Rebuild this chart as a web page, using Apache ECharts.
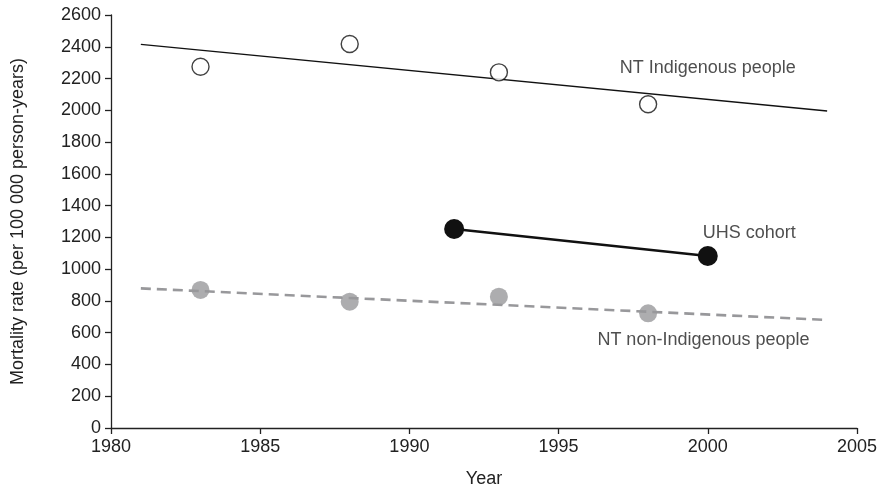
<!DOCTYPE html>
<html><head><meta charset="utf-8">
<script src="https://cdn.jsdelivr.net/npm/echarts@6/dist/echarts.min.js"></script>
<style>html,body{margin:0;padding:0;background:#fff}#c{width:880px;height:494px}</style>
</head><body><div id="c"></div>
<script>
// Data
var indigYears = [1983, 1988, 1993, 1998];
var indigRates = [2274, 2417, 2239, 2038];
var indigTrendYears = [1981, 2004];
var indigTrendRates = [2415, 1996];
var nonIndigYears = [1983, 1988, 1993, 1998];
var nonIndigRates = [869, 795, 827, 722];
var nonIndigTrendYears = [1981, 2004];
var nonIndigTrendRates = [879, 680];
var uhsYears = [1991.5, 2000];
var uhsRates = [1253, 1083];
var seriesNames = ['NT Indigenous people', 'UHS cohort', 'NT non-Indigenous people'];

function pairs(xs, ys){ return xs.map(function(x,i){ return [x, ys[i]]; }); }

var FONT = 'Liberation Sans, Arial, sans-serif';
var FS = 18;
var labelAnchors = [[1997.05, 2268], [1999.83, 1226], [1996.3, 554]];

var chart = echarts.init(document.getElementById('c'));
chart.setOption({
  animation: false,
  grid: {left: 111, right: 19, top: 15, bottom: 66, containLabel: false},
  xAxis: {
    type: 'value', min: 1980, max: 2005, interval: 5,
    name: 'Year', nameLocation: 'middle', nameGap: 42,
    nameTextStyle: {fontFamily: FONT, fontSize: FS, color: '#222'},
    axisLine: {lineStyle: {color: '#222', width: 1.3}},
    axisTick: {length: 6, lineStyle: {color: '#222', width: 1.3}},
    axisLabel: {fontFamily: FONT, fontSize: FS, color: '#222', margin: 10,
                formatter: function(v){ return String(v); }},
    splitLine: {show: false}
  },
  yAxis: {
    type: 'value', min: 0, max: 2600, interval: 200,
    name: 'Mortality rate (per 100 000 person-years)', nameLocation: 'middle', nameGap: 84,
    nameTextStyle: {fontFamily: FONT, fontSize: FS, color: '#222'},
    axisLine: {show: true, lineStyle: {color: '#222', width: 1.3}},
    axisTick: {show: true, length: 6, lineStyle: {color: '#222', width: 1.3}},
    axisLabel: {fontFamily: FONT, fontSize: FS, color: '#222', margin: 10,
                formatter: function(v){ return String(v); }},
    splitLine: {show: false}
  },
  series: [
    {type: 'line', data: pairs(indigTrendYears, indigTrendRates), symbol: 'none',
     lineStyle: {color: '#111', width: 1.4}, z: 2},
    {type: 'scatter', name: seriesNames[0], data: pairs(indigYears, indigRates), symbol: 'circle', symbolSize: 17,
     itemStyle: {color: '#fff', borderColor: '#111', borderWidth: 1.4}, z: 3},
    {type: 'line', data: pairs(nonIndigTrendYears, nonIndigTrendRates), symbol: 'none',
     lineStyle: {color: '#98989b', width: 2.6, type: [10, 6]}, z: 2},
    {type: 'scatter', name: seriesNames[2], data: pairs(nonIndigYears, nonIndigRates), symbol: 'circle', symbolSize: 18,
     itemStyle: {color: '#98989b'}, z: 3},
    {type: 'line', name: seriesNames[1], data: pairs(uhsYears, uhsRates), symbol: 'circle', symbolSize: 20,
     showAllSymbol: true,
     lineStyle: {color: '#111', width: 2.6}, itemStyle: {color: '#111', borderWidth: 0}, z: 3},
    {type: 'scatter', symbolSize: 0, silent: true,
     data: labelAnchors.map(function(p, i){ return {value: p, name: seriesNames[i]}; }),
     label: {show: true, position: 'right', distance: 0, formatter: '{b}',
             fontFamily: FONT, fontSize: FS, color: '#222'}, z: 4}
  ]
});
</script></body></html>
